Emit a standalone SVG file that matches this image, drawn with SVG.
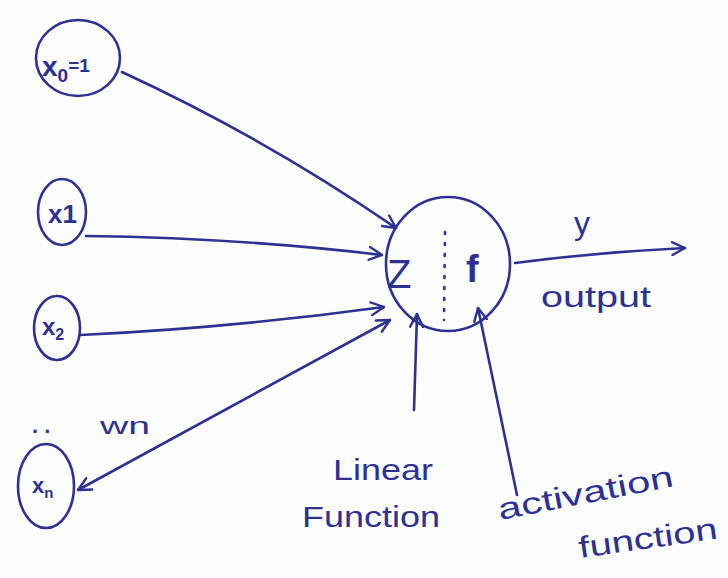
<svg xmlns="http://www.w3.org/2000/svg" width="728" height="578" viewBox="0 0 728 578">
<defs>
<style>
.ink{fill:none;stroke:#2d3190;stroke-width:2.6;stroke-linecap:round}
.t{fill:#2d3190;font-family:"Liberation Sans","DejaVu Sans",sans-serif}
</style>
<marker id="ah" viewBox="0 0 14 14" refX="13" refY="7" markerWidth="15" markerHeight="15" markerUnits="userSpaceOnUse" orient="auto-start-reverse">
<path d="M1,1 L13,7 L1,13" fill="none" stroke="#2d3190" stroke-width="2.2" stroke-linecap="round" stroke-linejoin="round"/>
</marker>
</defs>
<rect width="728" height="578" fill="#fdfdfd"/>
<g id="x0">
<ellipse class="ink" cx="78" cy="58" rx="42" ry="38"/>
<text class="t" x="42" y="76" font-size="28" font-weight="bold">x<tspan font-size="19" dy="6">0</tspan><tspan font-size="19" dy="-10">=1</tspan></text>
</g>
<g id="x1">
<ellipse class="ink" cx="62" cy="212" rx="24" ry="33"/>
<text class="t" x="48" y="223" font-size="26" font-weight="bold">x1</text>
</g>
<g id="x2">
<ellipse class="ink" cx="57" cy="328" rx="23" ry="32"/>
<text class="t" x="42" y="335" font-size="24" font-weight="bold">x<tspan font-size="16" dy="5">2</tspan></text>
</g>
<g id="xn">
<ellipse class="ink" cx="46" cy="486" rx="28" ry="42"/>
<text class="t" x="32" y="493" font-size="22" font-weight="bold">x<tspan font-size="15" dy="5">n</tspan></text>
<text class="t" x="32" y="433" font-size="22" font-weight="bold">. .</text>
</g>
<g id="neuron">
<ellipse class="ink" cx="448" cy="264" rx="62" ry="67"/>
<text class="t" x="387" y="288" font-size="40">Z</text>
<line class="ink" x1="445" y1="232" x2="444" y2="320" stroke-width="2.4" stroke-dasharray="2 9"/>
<text class="t" x="466" y="282" font-size="38" font-weight="bold">f</text>
</g>
<g id="labels">
<text class="t" x="574" y="234" font-size="32">y</text>
<text class="t" x="541" y="307" font-size="30" textLength="110" lengthAdjust="spacingAndGlyphs">output</text>
<text class="t" x="100" y="434" font-size="24" textLength="50" lengthAdjust="spacingAndGlyphs">wn</text>
<text class="t" x="333" y="480" font-size="30" textLength="100" lengthAdjust="spacingAndGlyphs">Linear</text>
<text class="t" x="302" y="527" font-size="30" textLength="138" lengthAdjust="spacingAndGlyphs">Function</text>
<text class="t" x="500" y="520" font-size="30" textLength="178" lengthAdjust="spacingAndGlyphs" transform="rotate(-11 500 520)">activation</text>
<text class="t" x="580" y="558" font-size="30" textLength="140" lengthAdjust="spacingAndGlyphs" transform="rotate(-8 580 558)">function</text>
</g>
<g id="connectors">
<path class="ink" d="M122,72 Q265,138 396,228" marker-end="url(#ah)"/>
<path class="ink" d="M86,236 Q240,238 382,255" marker-end="url(#ah)"/>
<path class="ink" d="M80,335 Q230,328 384,307" marker-end="url(#ah)"/>
<path class="ink" d="M78,490 L390,320" marker-start="url(#ah)" marker-end="url(#ah)"/>
<path class="ink" d="M414,410 L417,314" marker-end="url(#ah)"/>
<path class="ink" d="M517,495 L478,308" marker-end="url(#ah)"/>
<path class="ink" d="M515,263 Q600,252 685,248" marker-end="url(#ah)"/>
</g>
</svg>
